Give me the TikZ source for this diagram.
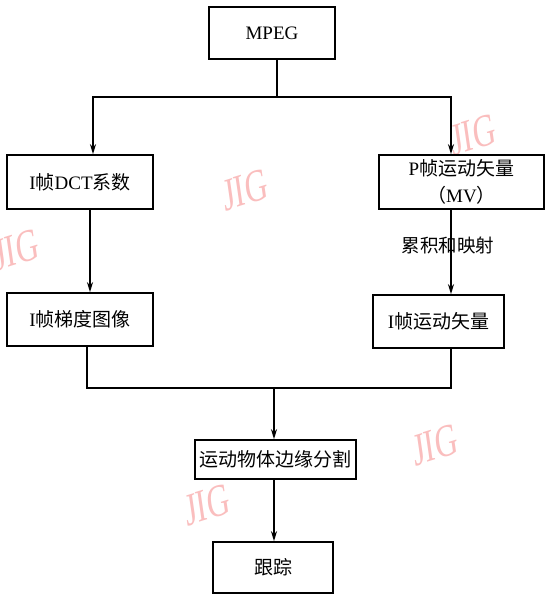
\documentclass[tikz,border=0pt]{standalone}
\usepackage{fontspec}
\setmainfont{Liberation Serif}
\newfontfamily\cjk{Noto Sans CJK SC}
\usetikzlibrary{arrows.meta}
\definecolor{wmpink}{RGB}{250,190,190}
\begin{document}
\begin{tikzpicture}[x=1pt,y=-1pt,
  box/.style={draw,line width=1.7pt,inner sep=0pt,align=center,font=\fontsize{19}{27}\selectfont},
  line/.style={line width=1.5pt},
  arr/.style={line width=1.5pt,-{Stealth[length=10pt,width=6pt]}},
  wm/.style={text=wmpink,font=\fontsize{46}{46}\selectfont,xscale=0.68,rotate=12}]
\useasboundingbox (0,0) rectangle (545,595);
\fill[white] (0,0) rectangle (545,595);
% watermarks
\node[wm] (w1) at (473,135) {JIG};
\node[wm] (w2) at (245,190) {JIG};
\node[wm] (w3) at (16,250) {JIG};
\node[wm] (w4) at (435,445) {JIG};
\node[wm] (w5) at (207,505) {JIG};
% boxes
\node[box,minimum width=126pt,minimum height=52pt] (mpeg) at (272,33) {MPEG};
\node[box,minimum width=146pt,minimum height=54pt] (dct) at (80,182) {I{\cjk 帧}DCT{\cjk 系数}};
\node[box,minimum width=165pt,minimum height=54pt] (pmv) at (461.5,182) {P{\cjk 帧运动矢量}\\{\cjk （}MV{\cjk ）}};
\node[box,minimum width=146pt,minimum height=53pt] (grad) at (80,319.5) {I{\cjk 帧梯度图像}};
\node[box,minimum width=131pt,minimum height=53pt] (imv) at (438.5,321.5) {I{\cjk 帧运动矢量}};
\node[box,minimum width=161pt,minimum height=39pt] (seg) at (275.5,459.5) {\cjk 运动物体边缘分割};
\node[box,minimum width=120pt,minimum height=51pt] (track) at (273,567.5) {\cjk 跟踪};
% helper coordinates
\coordinate (top) at (277,97);
\coordinate (xl) at (93,0);
\coordinate (xr) at (451,0);
\coordinate (xl2) at (90,0);
\coordinate (xl3) at (87,0);
\coordinate (bot) at (274,388);
% connectors
\draw[line] (mpeg.south -| top) -- (top);
\draw[arr] (top) -| (dct.north -| xl);
\draw[arr] (top) -| (pmv.north -| xr);
\draw[arr] (dct.south -| xl2) -- (grad.north -| xl2);
\draw[arr] (pmv.south -| xr) -- node[pos=0.42,font=\fontsize{18.5}{18.5}\selectfont\cjk,xshift=-3pt] (lab) {累积和映射} (imv.north -| xr);
\draw[line] (grad.south -| xl3) |- (bot);
\draw[line] (imv.south -| xr) |- (bot);
\draw[arr] (bot) -- (seg.north -| bot);
\draw[arr] (seg.south -| bot) -- (track.north -| bot);
\end{tikzpicture}
\end{document}
